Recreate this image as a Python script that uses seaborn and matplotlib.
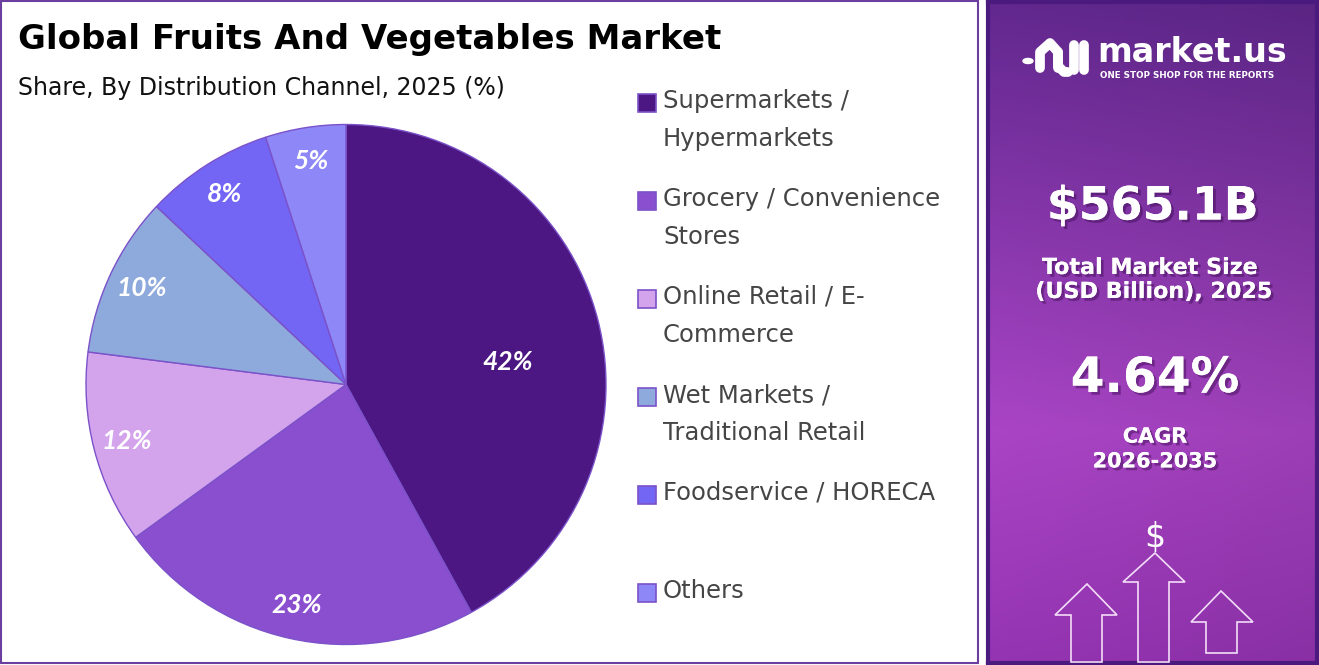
"""
Global Fruits And Vegetables Market - share by distribution channel (pie)
"""

import matplotlib.pyplot as plt
import matplotlib.patheffects as pe
from matplotlib.patches import Rectangle, Polygon, Circle
from matplotlib.colors import to_rgb
import seaborn as sns
import numpy as np

sns.set_theme(style="white")
plt.rcParams['font.family'] = ['DejaVu Sans']

# ====================================================================
# DATA
# ====================================================================
canaux = ['Supermarkets /\nHypermarkets', 'Grocery / Convenience\nStores',
          'Online Retail / E-\nCommerce', 'Wet Markets /\nTraditional Retail',
          'Foodservice / HORECA', 'Others']
parts = [42, 23, 12, 10, 8, 5]
couleurs = ['#4C1782', '#8A4FCF', '#D3A3EC', '#8EA9DB', '#7366F5', '#8D87F8']

titre = 'Global Fruits And Vegetables Market'
sous_titre = 'Share, By Distribution Channel, 2025 (%)'
taille_marche = '$565.1B'
cagr = '4.64%'

W, H = 1319, 665
fig = plt.figure(figsize=(W / 100, H / 100), dpi=100)
fig.patch.set_facecolor('white')


def px(x, y):
    # pixel (from top-left) -> figure fraction
    return x / W, 1 - y / H


# ====================================================================
# LEFT PANEL
# ====================================================================
fig.patches.append(Rectangle(px(1, 663), 977 / W, 662 / H, transform=fig.transFigure,
                             fill=False, edgecolor='#6B3FA0', linewidth=1.5))

fig.text(*px(18, 39), titre, fontsize=24.5, fontweight='bold', color='black', va='center')
fig.text(*px(18, 88), sous_titre, fontsize=17, color='#111111', va='center')

# pie
cx, cy, r = 346, 384.5, 260
ax = fig.add_axes([(cx - r) / W, (H - cy - r) / H, 2 * r / W, 2 * r / H])
palette = sns.color_palette(couleurs)
wedges, _ = ax.pie(parts, colors=palette, startangle=90, counterclock=False, radius=1,
                   wedgeprops=dict(edgecolor='#7B52C9', linewidth=1.0))
ax.set_xlim(-1, 1)
ax.set_ylim(-1, 1)
ax.set_aspect('equal')
ax.axis('off')

for i, (w, v) in enumerate(zip(wedges, parts)):
    ang = np.deg2rad((w.theta1 + w.theta2) / 2)
    dist = 0.87
    if i == 0:
        ang = np.deg2rad(8)
        dist = 0.63
    ax.text(dist * np.cos(ang), dist * np.sin(ang), f'{v}%', ha='center', va='center',
            fontsize=19, fontweight='bold', fontstyle='italic', color='white',
            family=['Lato', 'DejaVu Sans'])

# legend
for i, (nom, c) in enumerate(zip(canaux, couleurs)):
    y0 = 103 + i * 98
    x0, y0f = px(638, y0 + 9)
    fig.patches.append(Rectangle((x0, y0f), 18 / W, 18 / H, transform=fig.transFigure,
                                 facecolor=c, edgecolor='#7B52C9', linewidth=1.2))
    fig.text(*px(663, y0 - 14), nom, fontsize=17.5, color='#454545', va='top',
             linespacing=1.72)

# ====================================================================
# RIGHT PANEL
# ====================================================================
pan = fig.add_axes([988 / W, 2 / H, 329 / W, 661 / H])
haut = np.array(to_rgb('#62288F'))
milieu = np.array(to_rgb('#AA45C6'))
bas = np.array(to_rgb('#9534B3'))
t = np.linspace(0, 1, 200)[:, None]
grad = np.where(t < 0.65, haut + (milieu - haut) * (t / 0.65),
                milieu + (bas - milieu) * ((t - 0.65) / 0.35))
lateral = np.linspace(1.0, 0.92, 100)[None, :, None]
img = grad[:, None, :] * lateral
pan.imshow(np.clip(img, 0, 1), aspect='auto', extent=[0, 1, 1, 0])
pan.set_xlim(0, 1)
pan.set_ylim(1, 0)
pan.set_xticks([])
pan.set_yticks([])
for s in pan.spines.values():
    s.set_edgecolor('#4A1A7E')
    s.set_linewidth(3)

ombre = [pe.withSimplePatchShadow(offset=(2, -2), shadow_rgbFace='#3a0a50', alpha=0.45), pe.Normal()]

# logo
fig.patches.append(Circle(px(1028, 61), 5 / W, transform=fig.transFigure, color='white'))
for xs, ys in [([1040, 1040, 1050, 1058, 1058], [68, 52, 43, 52, 68]),
               ([1058, 1058, 1064, 1068], [52, 66, 72, 72]),
               ([1074, 1074], [45, 70]), ([1084, 1084], [45, 70])]:
    pts = [px(a, b) for a, b in zip(xs, ys)]
    fig.lines.append(plt.Line2D([p[0] for p in pts], [p[1] for p in pts],
                                transform=fig.transFigure, color='white', lw=7,
                                solid_capstyle='round', solid_joinstyle='round'))
fig.text(*px(1097, 52), 'market.us', fontsize=24, fontweight='bold', color='white', va='center')
fig.text(*px(1100, 75), 'ONE STOP SHOP FOR THE REPORTS', fontsize=6.3, fontweight='bold',
         color='white', va='center')

fig.text(*px(1153, 207), taille_marche, fontsize=33, fontweight='bold', color='white',
         ha='center', va='center', path_effects=ombre)
fig.text(*px(1150, 280), 'Total Market Size\n (USD Billion), 2025', fontsize=16,
         fontweight='bold', color='white', ha='center', va='center', linespacing=1.25,
         path_effects=ombre)
fig.text(*px(1155, 378), cagr, fontsize=35, fontweight='bold', color='white',
         ha='center', va='center', path_effects=ombre)
fig.text(*px(1155, 449), 'CAGR\n2026-2035', fontsize=15, fontweight='bold', color='white',
         ha='center', va='center', linespacing=1.3, path_effects=ombre)

# arrows
fig.text(*px(1155, 538), '$', fontsize=24, color='white', ha='center', va='center')
for tip, hb, hx, sx, bot in [((1087, 584), 615, (1055, 1117), (1071, 1102), 662),
                             ((1155, 553), 582, (1123, 1185), (1138, 1169), 662),
                             ((1221, 591), 622, (1191, 1253), (1206, 1237), 653)]:
    pts = [tip, (hx[1], hb), (sx[1], hb), (sx[1], bot), (sx[0], bot), (sx[0], hb), (hx[0], hb)]
    fig.patches.append(Polygon([px(a, b) for a, b in pts], closed=True, fill=False,
                               edgecolor='#F3DDF8', linewidth=1.2, transform=fig.transFigure))

plt.savefig('out.png', dpi=100)
print("Saved: out.png")
